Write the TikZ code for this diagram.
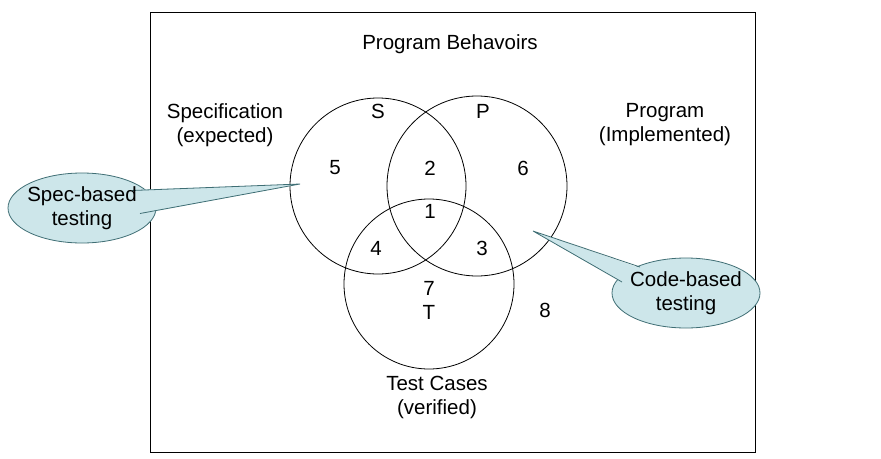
\documentclass[tikz,border=0pt]{standalone}
\usepackage{fontspec}
\setmainfont{Liberation Sans}
\usetikzlibrary{shapes.geometric}
\definecolor{call}{HTML}{CDE6EA}
\definecolor{calledge}{HTML}{3F6E74}
\begin{document}
\begin{tikzpicture}[x=1pt,y=-1pt,
  lbl/.style={font=\fontsize{20.5}{24}\selectfont,align=center},
  circ/.style={draw,line width=0.8pt},
  callout/.style={ellipse,fill=call,draw=calledge,line width=0.8pt,minimum width=148,minimum height=70}]
\useasboundingbox (0,0) rectangle (881,458);
\draw[line width=0.8pt] (150,12) rectangle (755,452);
\draw[circ] (378,186) circle (88);
\draw[circ] (477,186) circle (90);
\draw[circ] (429,284) circle (85);
\node[lbl] (title) at (450,44) {Program Behavoirs};
\node[lbl] (spec) at (225,125) {Specification\\(expected)};
\node[lbl] (prog) at (665,125) {Program\\(Implemented)};
\node[lbl] (tc) at (437,397) {Test Cases\\(verified)};
\node[lbl] (S) at (378,111) {S};
\node[lbl] (P) at (483,111) {P};
\node[lbl] (n5) at (335,168) {5};
\node[lbl] (n2) at (430,168) {2};
\node[lbl] (n6) at (523,168) {6};
\node[lbl] (n1) at (430,211) {1};
\node[lbl] (n4) at (376,248) {4};
\node[lbl] (n3) at (482,248) {3};
\node[lbl] (n7) at (429,300) {7\\T};
\node[lbl] (n8) at (545,310) {8};
\node[callout] (cs) at (82,208) {};
\coordinate (ts) at (300,184);
\fill[call] (ts) -- (132,190) -- (140,214) -- cycle;
\draw[calledge,line width=0.8pt] (132,190.5) -- (ts) -- (140,213.5);
\node[lbl] (cst) at (cs.center) {Spec-based\\testing};
\node[callout] (cb) at (686,293) {};
\coordinate (tb) at (533,231);
\fill[call] (tb) -- (640,268) -- (622,282) -- cycle;
\draw[calledge,line width=0.8pt] (640,267) -- (tb) -- (622,282);
\node[lbl] (cbt) at (cb.center) {Code-based\\testing};
\end{tikzpicture}
\end{document}
